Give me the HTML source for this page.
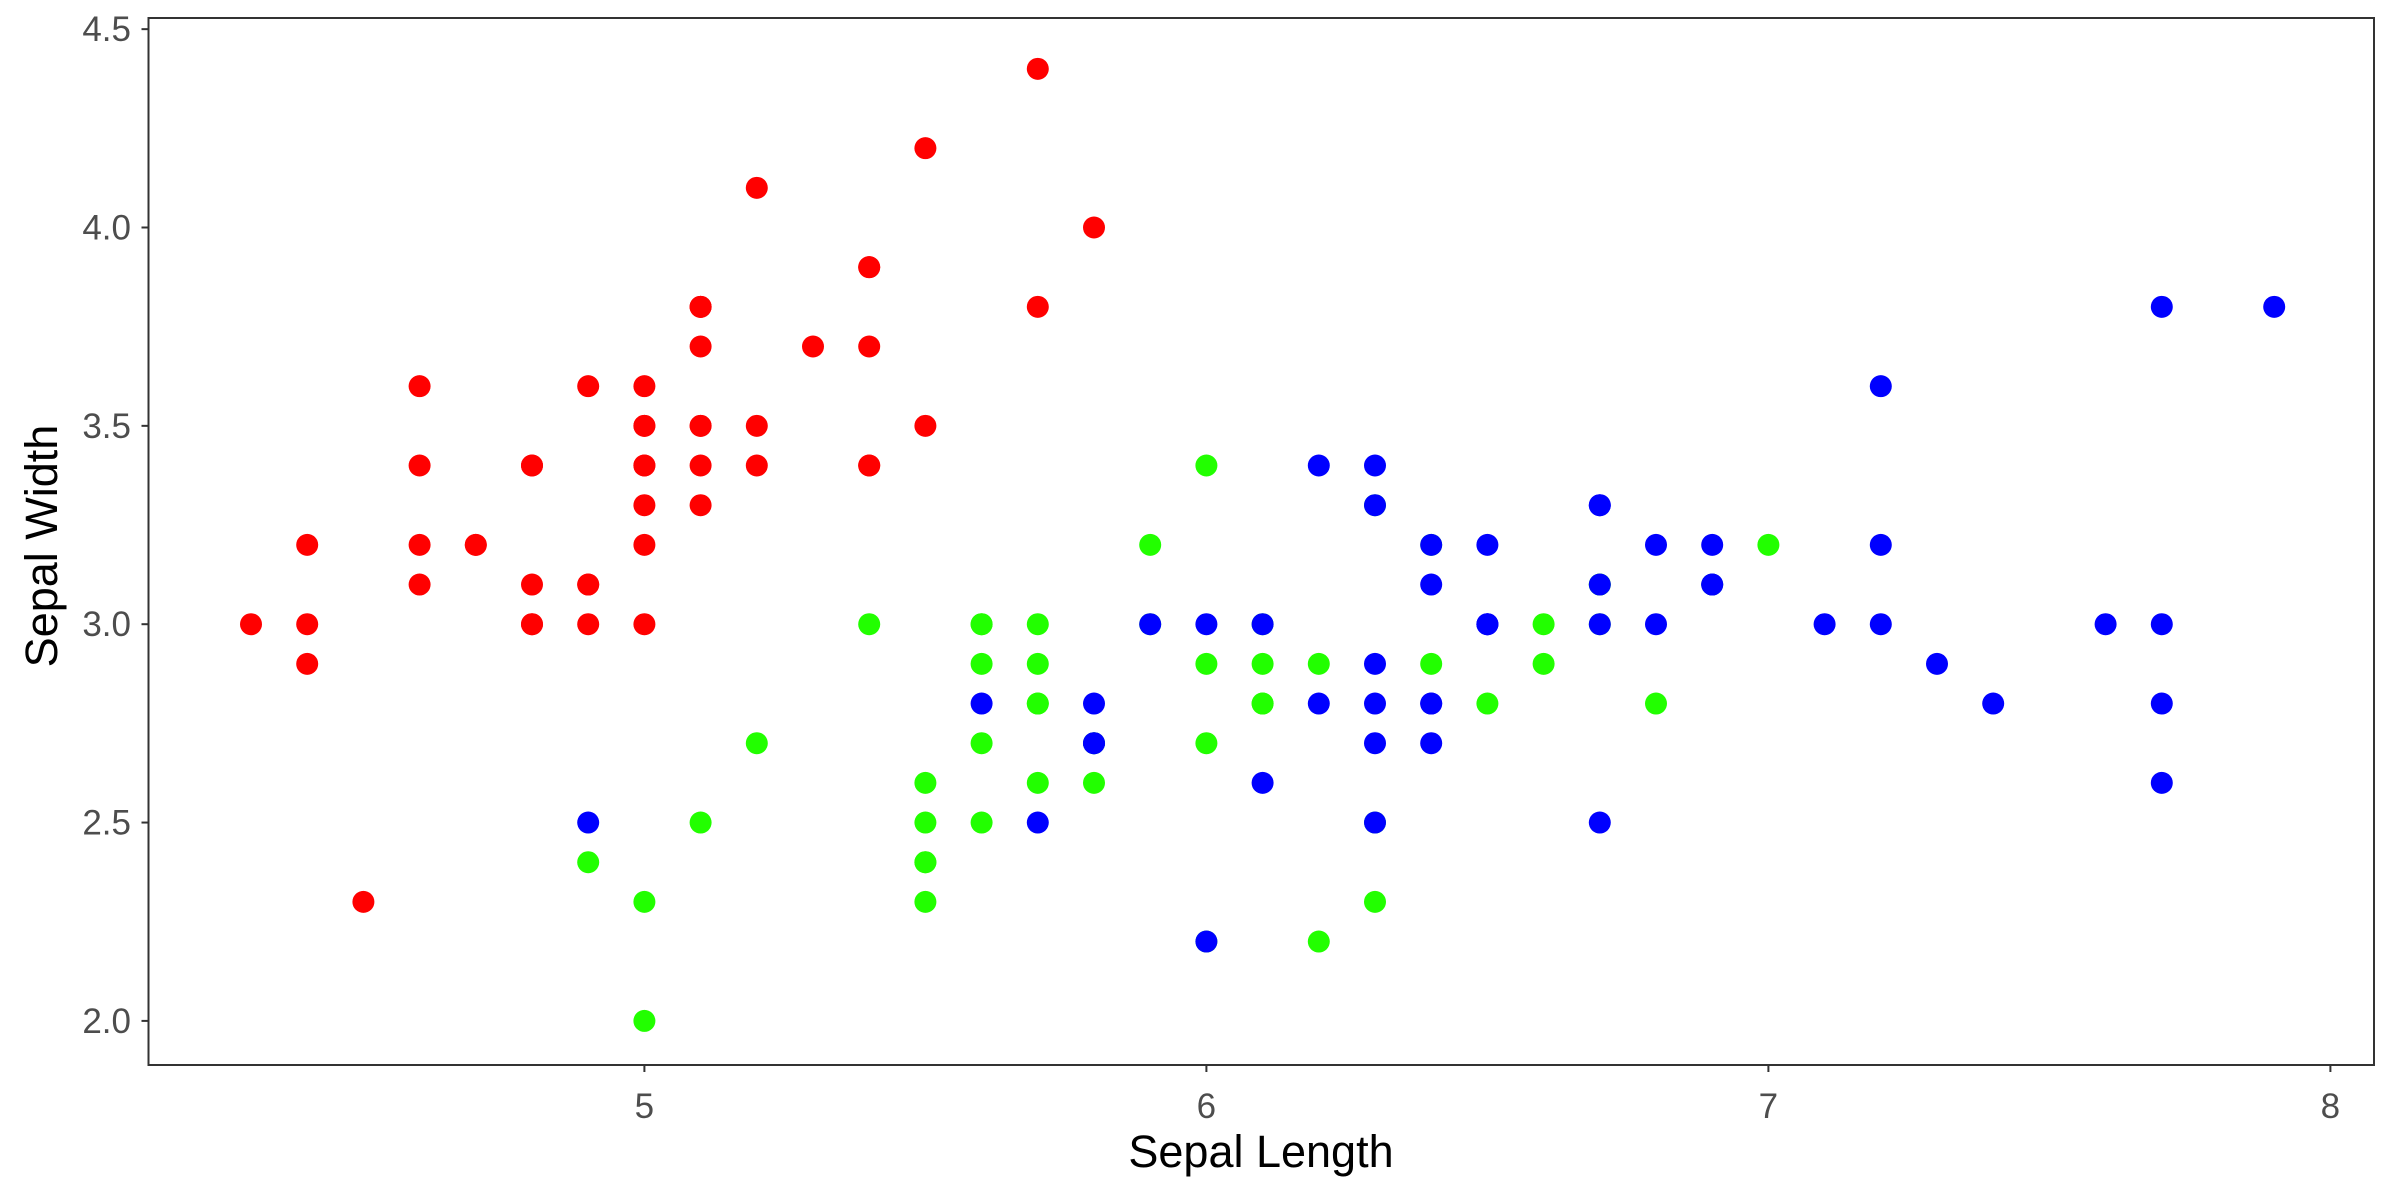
<!DOCTYPE html>
<html><head><meta charset="utf-8"><style>
html,body{margin:0;padding:0;background:#fff;}
svg{display:block;font-family:"Liberation Sans",Arial,sans-serif;}
</style></head><body>
<svg id="chart" width="2400" height="1200" xmlns="http://www.w3.org/2000/svg">
<rect width="2400" height="1200" fill="#fff"/>
<g id="points"></g>
<rect x="148.5" y="18" width="2225.5" height="1047" fill="none" stroke="#333" stroke-width="2"/>
<g id="axes"></g>
<text x="1261" y="1167" text-anchor="middle" font-size="45" fill="#000">Sepal Length</text>
<text transform="translate(57,546) rotate(-90)" text-anchor="middle" font-size="45" fill="#000">Sepal Width</text>
</svg>
<script>
const setosaX=[5.1,4.9,4.7,4.6,5.0,5.4,4.6,5.0,4.4,4.9,5.4,4.8,4.8,4.3,5.8,5.7,5.4,5.1,5.7,5.1,5.4,5.1,4.6,5.1,4.8,5.0,5.0,5.2,5.2,4.7,4.8,5.4,5.2,5.5,4.9,5.0,5.5,4.9,4.4,5.1,5.0,4.5,4.4,5.0,5.1,4.8,5.1,4.6,5.3,5.0];
const setosaY=[3.5,3.0,3.2,3.1,3.6,3.9,3.4,3.4,2.9,3.1,3.7,3.4,3.0,3.0,4.0,4.4,3.9,3.5,3.8,3.8,3.4,3.7,3.6,3.3,3.4,3.0,3.4,3.5,3.4,3.2,3.1,3.4,4.1,4.2,3.1,3.2,3.5,3.6,3.0,3.4,3.5,2.3,3.2,3.5,3.8,3.0,3.8,3.2,3.7,3.3];
const versicolorX=[7.0,6.4,6.9,5.5,6.5,5.7,6.3,4.9,6.6,5.2,5.0,5.9,6.0,6.1,5.6,6.7,5.6,5.8,6.2,5.6,5.9,6.1,6.3,6.1,6.4,6.6,6.8,6.7,6.0,5.7,5.5,5.5,5.8,6.0,5.4,6.0,6.7,6.3,5.6,5.5,5.5,6.1,5.8,5.0,5.6,5.7,5.7,6.2,5.1,5.7];
const versicolorY=[3.2,3.2,3.1,2.3,2.8,2.8,3.3,2.4,2.9,2.7,2.0,3.0,2.2,2.9,2.9,3.1,3.0,2.7,2.2,2.5,3.2,2.8,2.5,2.8,2.9,3.0,2.8,3.0,2.9,2.6,2.4,2.4,2.7,2.7,3.0,3.4,3.1,2.3,3.0,2.5,2.6,3.0,2.6,2.3,2.7,3.0,2.9,2.9,2.5,2.8];
const virginicaX=[6.3,5.8,7.1,6.3,6.5,7.6,4.9,7.3,6.7,7.2,6.5,6.4,6.8,5.7,5.8,6.4,6.5,7.7,7.7,6.0,6.9,5.6,7.7,6.3,6.7,7.2,6.2,6.1,6.4,7.2,7.4,7.9,6.4,6.3,6.1,7.7,6.3,6.4,6.0,6.9,6.7,6.9,5.8,6.8,6.7,6.7,6.3,6.5,6.2,5.9];
const virginicaY=[3.3,2.7,3.0,2.9,3.0,3.0,2.5,2.9,2.5,3.6,3.2,2.7,3.0,2.5,2.8,3.2,3.0,3.8,2.6,2.2,3.2,2.8,2.8,2.7,3.3,3.2,2.8,3.0,2.8,3.0,2.8,3.8,2.8,2.8,2.6,3.0,3.4,3.1,3.0,3.1,3.1,3.1,2.7,3.2,3.3,3.0,2.5,3.0,3.4,3.0];
const xTicks=[5,6,7,8];
const xTickLabels=["5","6","7","8"];
const yTicks=[2.0,2.5,3.0,3.5,4.0,4.5];
const yTickLabels=["2.0","2.5","3.0","3.5","4.0","4.5"];

const NS="http://www.w3.org/2000/svg";
function sx(v){return 644.4+(v-5)*562;}
function sy(v){return 1020.9-(v-2)*396.7;}
const pts=document.getElementById('points');
function series(xs,ys,color,name){
  for(let i=0;i<xs.length;i++){
    const c=document.createElementNS(NS,'circle');
    c.setAttribute('cx',sx(xs[i]));c.setAttribute('cy',sy(ys[i]));
    c.setAttribute('r',11);c.setAttribute('fill',color);
    
    
    pts.appendChild(c);
  }
}
series(setosaX,setosaY,'#FF0000','setosa');
series(versicolorX,versicolorY,'#22FF00','versicolor');
series(virginicaX,virginicaY,'#0000FF','virginica');
const ax=document.getElementById('axes');
xTicks.forEach((t,i)=>{
  const l=document.createElementNS(NS,'line');
  l.setAttribute('x1',sx(t));l.setAttribute('x2',sx(t));l.setAttribute('y1',1065);l.setAttribute('y2',1072);
  l.setAttribute('stroke','#333');l.setAttribute('stroke-width',2);
  
  
  ax.appendChild(l);
  const tx=document.createElementNS(NS,'text');
  tx.setAttribute('x',sx(t));tx.setAttribute('y',1118);tx.setAttribute('text-anchor','middle');
  tx.setAttribute('font-size',35);tx.setAttribute('fill','#4D4D4D');
  tx.textContent=xTickLabels[i];
  
  
  ax.appendChild(tx);
});
yTicks.forEach((t,i)=>{
  const l=document.createElementNS(NS,'line');
  l.setAttribute('x1',141.5);l.setAttribute('x2',148.5);l.setAttribute('y1',sy(t));l.setAttribute('y2',sy(t));
  l.setAttribute('stroke','#333');l.setAttribute('stroke-width',2);
  
  
  ax.appendChild(l);
  const tx=document.createElementNS(NS,'text');
  tx.setAttribute('x',131);tx.setAttribute('y',sy(t)+12);tx.setAttribute('text-anchor','end');
  tx.setAttribute('font-size',35);tx.setAttribute('fill','#4D4D4D');
  tx.textContent=yTickLabels[i];
  
  
  ax.appendChild(tx);
});
</script>
</body></html>
